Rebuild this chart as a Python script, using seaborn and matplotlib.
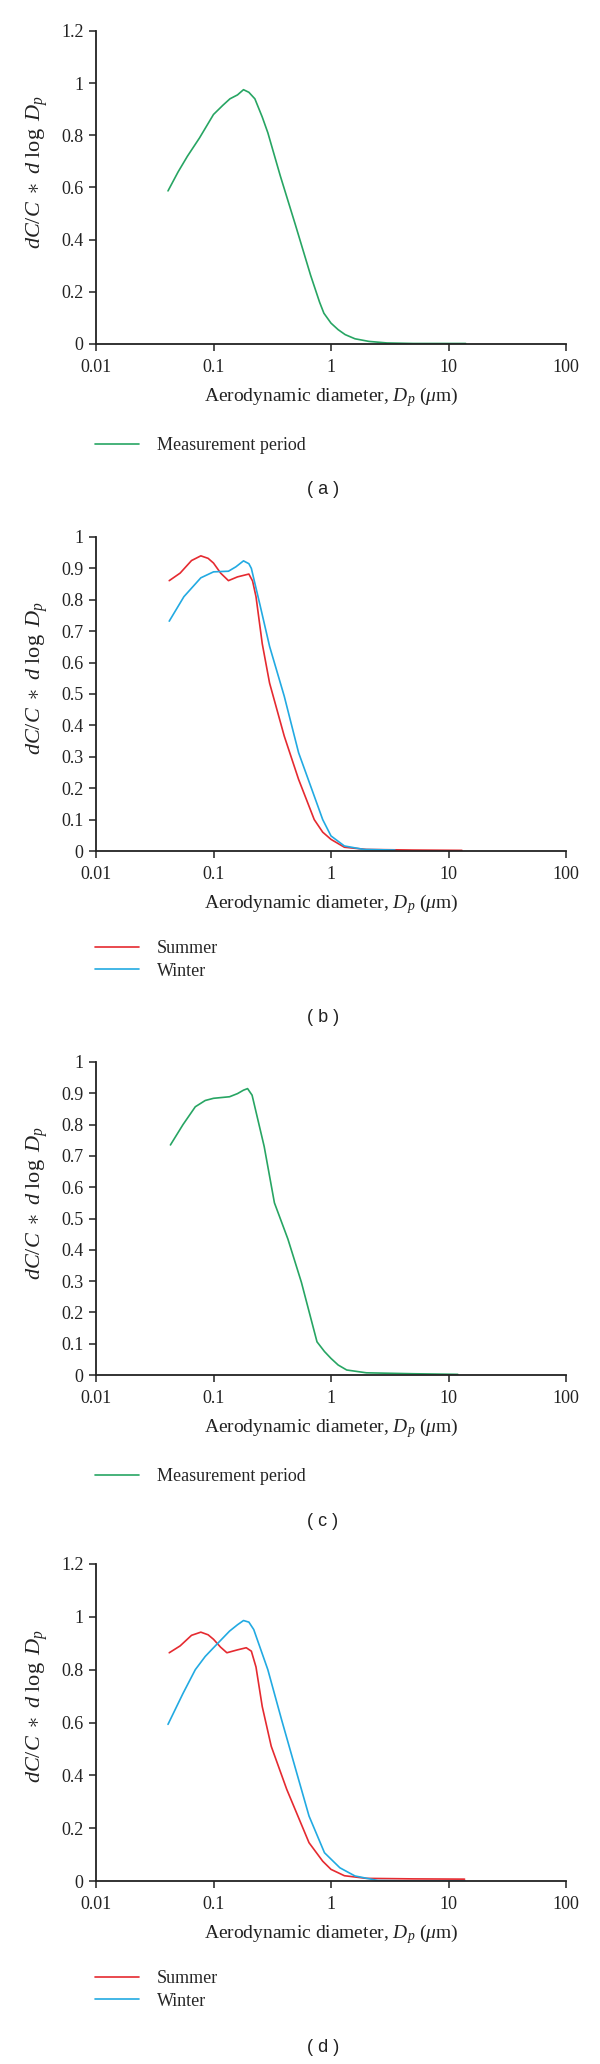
import matplotlib
matplotlib.use('Agg')
import matplotlib.pyplot as plt
import seaborn as sns
import pandas as pd

# --- data (Dp in um, normalised dC/C*dlogDp) ---
dp_a = [0.041, 0.05, 0.06, 0.076, 0.1, 0.12, 0.138, 0.16, 0.18, 0.2, 0.225, 0.26, 0.29, 0.37, 0.5,
        0.67, 0.8, 0.87, 1.0, 1.15, 1.32, 1.6, 2.1, 3.0, 5.0, 10.0, 14.0]
val_a = [0.587, 0.66, 0.72, 0.79, 0.88, 0.915, 0.94, 0.955, 0.975, 0.965, 0.94, 0.87, 0.81, 0.645, 0.454,
         0.264, 0.16, 0.118, 0.08, 0.055, 0.036, 0.02, 0.01, 0.004, 0.002, 0.002, 0.002]

dp_summer = [0.042, 0.052, 0.065, 0.078, 0.09, 0.1, 0.115, 0.134, 0.16, 0.2, 0.215, 0.23, 0.26, 0.3, 0.4,
             0.53, 0.72, 0.85, 1.0, 1.3, 2.0, 5.0, 13.0]
val_summer = [0.861, 0.885, 0.925, 0.94, 0.932, 0.917, 0.885, 0.861, 0.873, 0.882, 0.86, 0.81, 0.66, 0.535, 0.366,
              0.228, 0.10, 0.06, 0.037, 0.012, 0.005, 0.003, 0.002]

dp_winter_b = [0.042, 0.056, 0.078, 0.1, 0.134, 0.155, 0.18, 0.2, 0.21, 0.25, 0.3, 0.4,
               0.53, 0.72, 0.85, 1.0, 1.3, 1.9, 3.5]
val_winter_b = [0.732, 0.81, 0.87, 0.889, 0.891, 0.905, 0.924, 0.915, 0.9, 0.78, 0.652, 0.493,
                0.313, 0.175, 0.1, 0.048, 0.016, 0.005, 0.003]

dp_c = [0.043, 0.055, 0.07, 0.085, 0.1, 0.137, 0.16, 0.18, 0.195, 0.213, 0.27, 0.33, 0.43, 0.56,
        0.76, 0.88, 1.0, 1.15, 1.36, 2.0, 5.0, 12.0]
val_c = [0.735, 0.8, 0.857, 0.877, 0.884, 0.889, 0.899, 0.91, 0.915, 0.894, 0.73, 0.55, 0.434, 0.296,
         0.106, 0.075, 0.053, 0.032, 0.016, 0.007, 0.004, 0.002]

dp_summer_d = [0.042, 0.052, 0.065, 0.078, 0.09, 0.1, 0.115, 0.13, 0.16, 0.19, 0.21, 0.23, 0.26, 0.31, 0.42,
               0.65, 0.85, 1.0, 1.3, 2.0, 5.0, 13.7]
val_summer_d = [0.864, 0.89, 0.93, 0.942, 0.932, 0.915, 0.885, 0.864, 0.875, 0.883, 0.87, 0.81, 0.66, 0.51, 0.347,
                0.145, 0.075, 0.044, 0.02, 0.01, 0.008, 0.007]

dp_winter_d = [0.041, 0.055, 0.07, 0.085, 0.1, 0.137, 0.16, 0.18, 0.2, 0.22, 0.29, 0.38, 0.52, 0.65,
               0.88, 1.19, 1.6, 2.5, 5.0, 13.8]
val_winter_d = [0.593, 0.71, 0.80, 0.85, 0.883, 0.946, 0.97, 0.986, 0.98, 0.952, 0.80, 0.61, 0.397, 0.246,
                0.107, 0.05, 0.019, 0.002, 0.0, 0.0]

panel_tags = ['( a )', '( b )', '( c )', '( d )']
GREEN = '#27a563'
RED = '#e52a30'
BLUE = '#22aae2'

sns.set_style('ticks')
plt.rcParams['font.family'] = ['Liberation Serif', 'DejaVu Serif']
plt.rcParams['mathtext.fontset'] = 'custom'
plt.rcParams['mathtext.rm'] = 'Liberation Serif'
plt.rcParams['mathtext.it'] = 'Liberation Serif:italic'
plt.rcParams['mathtext.bf'] = 'Liberation Serif:bold'

W, H = 600, 2064
fig = plt.figure(figsize=(W / 100, H / 100), dpi=100)


def add_ax(top, bottom, left=96, right=566):
    return fig.add_axes([left / W, 1 - bottom / H, (right - left) / W, (bottom - top) / H])


# panel box in pixels (top, bottom), y max, y tick step
layout = [
    (31, 344, 1.2, 0.2),
    (537, 851, 1.0, 0.1),
    (1062, 1375, 1.0, 0.1),
    (1564, 1881, 1.2, 0.2),
]

series = [
    [('Measurement period', dp_a, val_a, GREEN)],
    [('Summer', dp_summer, val_summer, RED), ('Winter', dp_winter_b, val_winter_b, BLUE)],
    [('Measurement period', dp_c, val_c, GREEN)],
    [('Summer', dp_summer_d, val_summer_d, RED), ('Winter', dp_winter_d, val_winter_d, BLUE)],
]

for i, ((top, bottom, ymax, step), lines) in enumerate(zip(layout, series)):
    ax = add_ax(top, bottom)
    for name, xs, ys, col in lines:
        df = pd.DataFrame({'Dp': xs, 'val': ys})
        sns.lineplot(data=df, x='Dp', y='val', ax=ax, color=col, linewidth=1.2, label=name)
    ax.set_xscale('log')
    ax.set_xlim(0.01, 100)
    ax.set_ylim(0, ymax)
    n = int(round(ymax / step))
    yt = [round(k * step, 1) for k in range(n + 1)]
    ax.set_yticks(yt)
    ax.set_yticklabels([f'{v:g}' for v in yt])
    ax.set_xticks([0.01, 0.1, 1, 10, 100])
    ax.set_xticklabels(['0.01', '0.1', '1', '10', '100'])
    ax.xaxis.set_minor_locator(matplotlib.ticker.NullLocator())
    sns.despine(ax=ax)
    for s in ['left', 'bottom']:
        ax.spines[s].set_color('#222222')
        ax.spines[s].set_linewidth(1.3)
    ax.tick_params(axis='both', length=5, width=1.1, color='#222222', labelsize=13,
                   labelcolor='#222222')
    ax.tick_params(axis='y', pad=4)
    ax.tick_params(axis='x', pad=6)

    hgt = bottom - top
    ax.set_xlabel(r'Aerodynamic diameter, $D_p$ ($\mu$m)', fontsize=14, color='#222222')
    ax.xaxis.set_label_coords(0.5, -53 / hgt)
    ax.xaxis.label.set_va('center')
    ax.set_ylabel(r'$dC/C\ \ast\ d\ \log\ D_p$', fontsize=16, color='#222222')
    ax.yaxis.set_label_coords(-59 / 470, 0.55)
    ax.yaxis.label.set_va('center')

    leg_top = bottom + (82 if len(lines) == 2 else 86)
    ax.legend(loc='upper left', bbox_to_anchor=(88 / W, 1 - leg_top / H),
              bbox_transform=fig.transFigure, frameon=False, fontsize=13,
              handlelength=2.4, handletextpad=1.0, labelspacing=0.3, borderaxespad=0)
    tag_y = bottom + (166 if len(lines) == 2 else 146)
    fig.text(323 / W, 1 - tag_y / H, panel_tags[i], ha='center', va='center',
             fontsize=13, family=['Liberation Sans', 'DejaVu Sans'], color='#222222')

fig.savefig('out.png', dpi=100, facecolor='white')
